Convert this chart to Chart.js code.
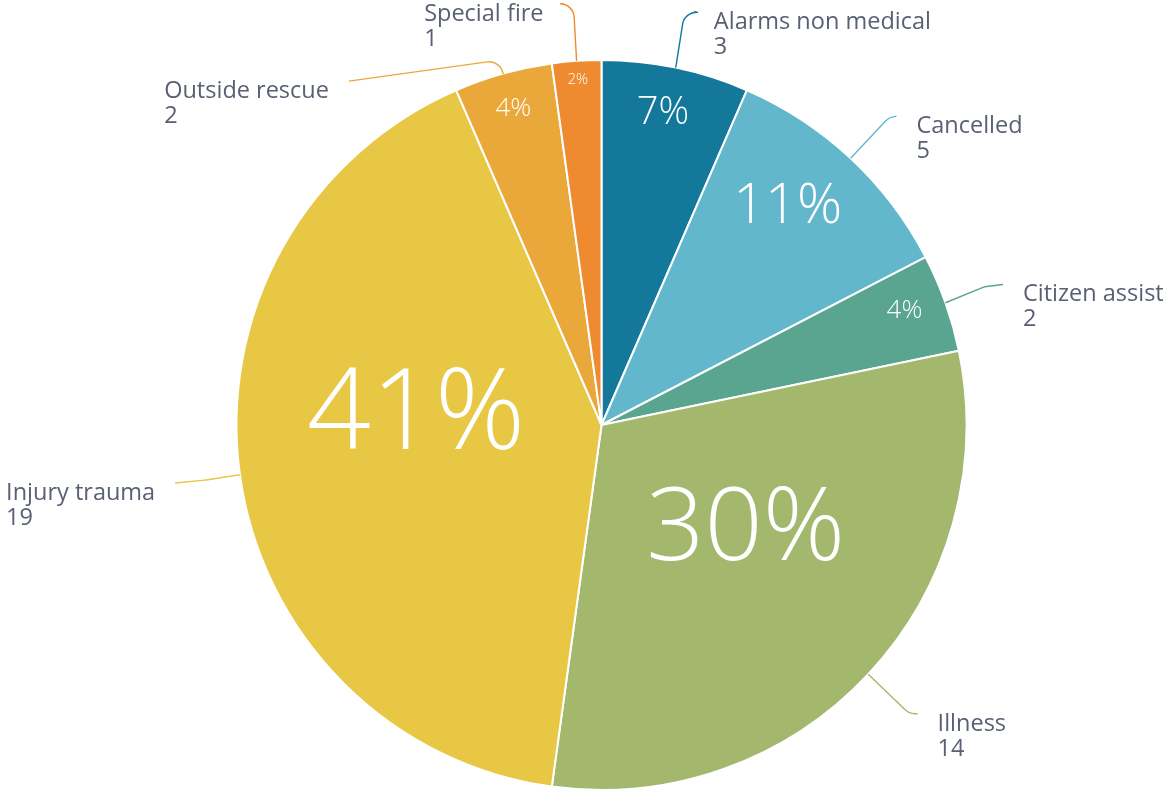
<!DOCTYPE html>
<html lang="en">
<head>
<meta charset="UTF-8">
<title>Incidents by type</title>
<script src="https://cdn.jsdelivr.net/npm/chart.js"></script>
<style>
    html, body { margin: 0; padding: 0; background: #fff; }
    .chart-container { position: relative; width: 1165px; height: 792px; }
</style>
</head>
<body>
<div class="chart-container">
    <canvas id="pieChart"></canvas>
</div>

<script>
// ======= Data =======
const categories = ['Alarms non medical', 'Cancelled', 'Citizen assist', 'Illness', 'Injury trauma', 'Outside rescue', 'Special fire'];
const counts = [3, 5, 2, 14, 19, 2, 1];

// ======= Styles =======
const sliceColors = ['#13789a', '#62b7cc', '#5aa590', '#a3b86c', '#e8c744', '#eaa83a', '#ee8a2f'];
const textColor = '#596073';

// percent label: font size, radius fraction, angle shift (deg) from slice middle
const pctFont = [38, 56, 26, 102, 112, 26, 15];
const pctRadius = [0.879, 0.793, 0.889, 0.479, 0.510, 0.906, 0.950];
const pctShift = [-0.7, -3.0, -1.4, -8.6, 12.9, 0.2, 0];

// leader lines, in radius units from the centre: elbow and end
const leaderElbow = [[0.228, -1.135], [0.788, -0.843], [1.050, -0.379], [0.843, 0.791], [-1.085, 0.151], [-0.275, -1.0], [-0.077, -1.154]];
const leaderEnd = [[0.253, -1.132], [0.808, -0.846], [1.100, -0.385], [0.866, 0.791], [-1.168, 0.159], [-0.692, -0.942], [-0.104, -1.154]];

const pieLabels = {
    id: 'pieLabels',
    afterDatasetsDraw(chart) {
        const ctx = chart.ctx;
        const arcs = chart.getDatasetMeta(0).data;
        const total = counts.reduce((a, b) => a + b, 0);
        ctx.save();
        ctx.textBaseline = 'alphabetic';
        arcs.forEach((arc, i) => {
            const cx = arc.x, cy = arc.y, r = arc.outerRadius;
            const mid = (arc.startAngle + arc.endAngle) / 2;

            // percentage inside the slice (digits centred on the point)
            const a = mid + pctShift[i] * Math.PI / 180;
            const px = cx + Math.cos(a) * r * pctRadius[i];
            const py = cy + Math.sin(a) * r * pctRadius[i];
            ctx.fillStyle = '#fff';
            ctx.font = '300 ' + pctFont[i] + 'px "Open Sans"';
            ctx.textAlign = 'center';
            ctx.fillText(Math.round(counts[i] / total * 100) + '%', px, py + pctFont[i] * 0.357);

            // leader line
            const sx = cx + Math.cos(mid) * r, sy = cy + Math.sin(mid) * r;
            const ex = cx + leaderElbow[i][0] * r, ey = cy + leaderElbow[i][1] * r;
            const tx = cx + leaderEnd[i][0] * r, ty = cy + leaderEnd[i][1] * r;
            ctx.strokeStyle = sliceColors[i];
            ctx.lineWidth = 1.4;
            ctx.beginPath();
            ctx.moveTo(sx, sy);
            ctx.arcTo(ex, ey, tx, ty, 14);
            ctx.lineTo(tx, ty);
            ctx.stroke();

            // outside label
            ctx.font = '23.5px "Open Sans"';
            ctx.fillStyle = textColor;
            ctx.textAlign = 'left';
            const lines = [categories[i], String(counts[i])];
            const w = Math.max(...lines.map(l => ctx.measureText(l).width));
            const lx = tx > cx ? tx + 20 : tx - 20 - w;
            ctx.fillText(lines[0], lx, ty + 17);
            ctx.fillText(lines[1], lx, ty + 42);
        });
        ctx.restore();
    }
};

new Chart(document.getElementById('pieChart'), {
    type: 'pie',
    data: {
        labels: categories,
        datasets: [{
            data: counts,
            backgroundColor: sliceColors,
            borderColor: '#fff',
            borderWidth: 2,
            hoverOffset: 0
        }]
    },
    options: {
        responsive: true,
        maintainAspectRatio: false,
        animation: false,
        layout: { padding: { left: 235, right: 197, top: 59, bottom: 1 } },
        plugins: {
            legend: { display: false },
            tooltip: { enabled: false }
        }
    },
    plugins: [pieLabels]
});
</script>
</body>
</html>
